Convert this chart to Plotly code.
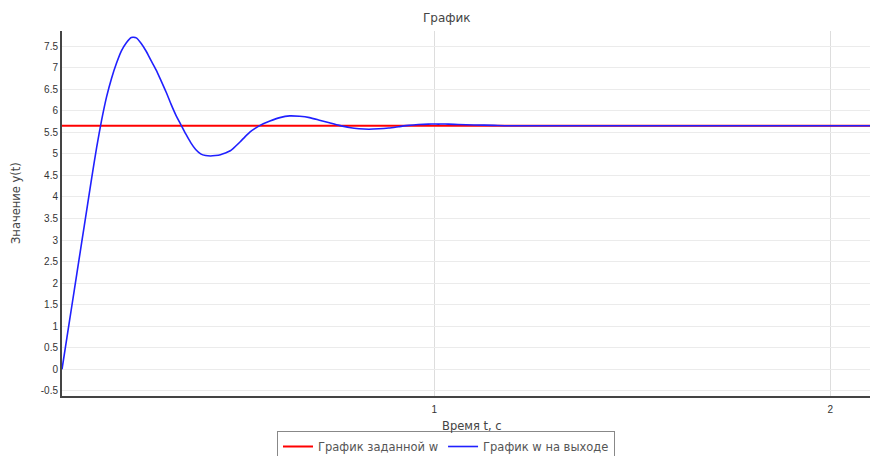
import plotly.graph_objects as go

# Reference (setpoint) value
setpoint_t = [0.06, 2.1]
setpoint_y = [5.65, 5.65]

# System output y(t)
output_t = [0.0600, 0.0725, 0.0850, 0.0975, 0.1100, 0.1225, 0.1350, 0.1475, 0.1600, 0.1725,
            0.1850, 0.1975, 0.2100, 0.2225, 0.2350, 0.2475, 0.2600, 0.2725, 0.2850, 0.2975,
            0.3100, 0.3225, 0.3350, 0.3475, 0.3600, 0.3725, 0.3850, 0.3975, 0.4100, 0.4225,
            0.4350, 0.4475, 0.4600, 0.4725, 0.4850, 0.4975, 0.5100, 0.5225, 0.5350, 0.5475,
            0.5600, 0.5850, 0.6100, 0.6350, 0.6600, 0.6850, 0.7100, 0.7350, 0.7600, 0.7850,
            0.8100, 0.8350, 0.8600, 0.8850, 0.9100, 0.9350, 0.9600, 0.9850, 1.0100, 1.0350,
            1.0600, 1.1000, 1.1500, 1.2000, 2.1000]
output_y = [0.00, 0.74, 1.48, 2.22, 2.96, 3.70, 4.44, 5.15, 5.78, 6.32,
            6.75, 7.10, 7.39, 7.58, 7.70, 7.69, 7.56, 7.38, 7.16, 6.95,
            6.70, 6.44, 6.16, 5.90, 5.68, 5.46, 5.26, 5.10, 5.00, 4.96,
            4.95, 4.96, 4.98, 5.02, 5.07, 5.17, 5.28, 5.40, 5.51, 5.59,
            5.66, 5.76, 5.84, 5.88, 5.87, 5.84, 5.78, 5.72, 5.66, 5.61,
            5.58, 5.57, 5.58, 5.60, 5.63, 5.66, 5.68, 5.69, 5.69, 5.69,
            5.68, 5.67, 5.66, 5.65, 5.65]

y_ticks = [-0.5, 0, 0.5, 1, 1.5, 2, 2.5, 3, 3.5, 4, 4.5, 5, 5.5, 6, 6.5, 7, 7.5]
y_tick_text = ["-0.5", "0", "0.5", "1", "1.5", "2", "2.5", "3", "3.5", "4",
               "4.5", "5", "5.5", "6", "6.5", "7", "7.5"]
x_ticks = [1, 2]
x_tick_text = ["1", "2"]

tick_font = "Liberation Sans, Arial, sans-serif"
label_font = "DejaVu Sans, Verdana, sans-serif"

fig = go.Figure()
fig.add_trace(go.Scatter(
    x=setpoint_t, y=setpoint_y, mode="lines",
    name="График заданной w",
    line=dict(color="#ff0000", width=2),
))
fig.add_trace(go.Scatter(
    x=output_t, y=output_y, mode="lines",
    name="График w на выходе",
    line=dict(color="#2020ff", width=1.6, shape="spline", smoothing=0.6),
))

fig.update_layout(
    width=870, height=456,
    margin=dict(l=62, r=0, t=31, b=60, autoexpand=False),
    paper_bgcolor="white", plot_bgcolor="white",
    font=dict(family=tick_font, size=10, color="#333333"),
    showlegend=True,
    legend=dict(
        orientation="h", x=(277 - 62) / 808, xanchor="left",
        y=(396 - 431) / 365, yanchor="top",
        bordercolor="#888888", borderwidth=1, bgcolor="white",
        font=dict(family=label_font, size=11.5, color="#555555"),
        itemwidth=30, tracegroupgap=0,
    ),
    xaxis=dict(
        range=[0.06, 2.1], tickvals=x_ticks, ticktext=x_tick_text,
        showgrid=True, gridcolor="#dddddd", gridwidth=1,
        showline=True, linecolor="#444444", linewidth=2,
        zeroline=False, ticks="", ticklabelstandoff=3,
        tickfont=dict(size=10, color="#333333"),
    ),
    yaxis=dict(
        range=[-0.62, 7.85], tickvals=y_ticks, ticktext=y_tick_text,
        showgrid=True, gridcolor="#ebebeb", gridwidth=1,
        showline=True, linecolor="#444444", linewidth=2,
        zeroline=False, ticks="", tickfont=dict(size=10, color="#333333"),
    ),
    annotations=[
        dict(text="График", xref="paper", yref="paper", x=(447 - 62) / 808,
             y=1.0, yshift=13, xanchor="center", yanchor="middle",
             showarrow=False,
             font=dict(family=label_font, size=12, color="#444444")),
        dict(text="Время t, с", xref="paper", yref="paper", x=(472 - 62) / 808,
             y=0, yshift=-30, xanchor="center", yanchor="middle",
             showarrow=False,
             font=dict(family=label_font, size=11.5, color="#444444")),
        dict(text="Значение y(t)", xref="paper", yref="paper", x=0, xshift=-46,
             y=(396 - 203) / 365, xanchor="center", yanchor="middle",
             textangle=-90, showarrow=False,
             font=dict(family=label_font, size=11.5, color="#444444")),
    ],
)

fig.write_html("out.html")
